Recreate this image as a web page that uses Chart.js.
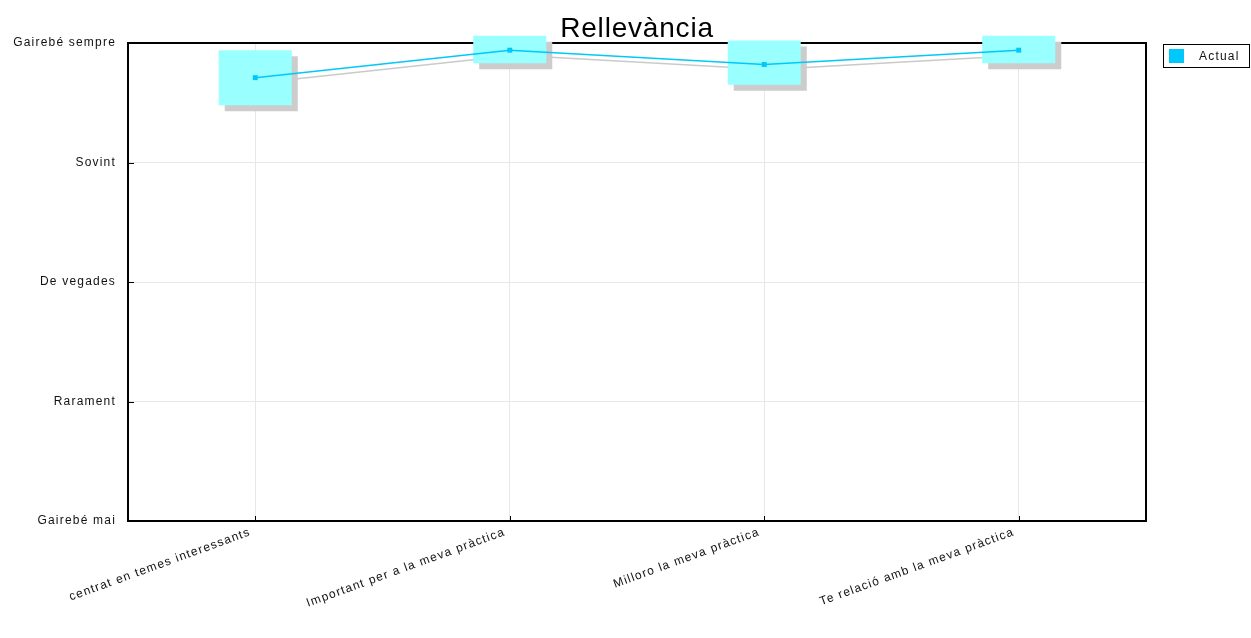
<!DOCTYPE html>
<html>
<head>
<meta charset="utf-8">
<script src="https://cdn.jsdelivr.net/npm/chart.js@4/dist/chart.umd.min.js"></script>
<style>
  html, body { margin: 0; padding: 0; background: #ffffff; }
  #wrap { width: 1251px; height: 638px; }
</style>
</head>
<body>
<div id="wrap"><canvas id="c" width="1251" height="638"></canvas></div>
<script>
// Survey items and answer scale
const categories = [
  'centrat en temes interessants',
  'Important per a la meva pràctica',
  'Milloro la meva pràctica',
  'Te relació amb la meva pràctica'
];
const levelLabels = ['Gairebé mai', 'Rarament', 'De vegades', 'Sovint', 'Gairebé sempre'];

// Mean answer per item (1 = Gairebé mai ... 5 = Gairebé sempre)
const actualValues = [4.71, 4.94, 4.82, 4.94];
// Spread around the mean per item
const spreadLow  = [4.48, 4.83, 4.65, 4.83];
const spreadHigh = [4.94, 5.06, 5.02, 5.06];

const chartTitle = 'Rellevància';
const seriesName = 'Actual';

const FONT = '"Liberation Sans", Arial, Helvetica, sans-serif';
const LINE_COLOR = '#00c8fa';
const BOX_COLOR = '#99ffff';
const SHADOW = '#cccccc';
const GRID = '#e8e8e8';
const LABEL_SPACING = '1.2px';

const decor = {
  id: 'decor',
  beforeDraw(chart) {
    chart.ctx.letterSpacing = LABEL_SPACING;
  },
  beforeDatasetsDraw(chart) {
    const { ctx, chartArea: a, scales: { x, y } } = chart;
    ctx.save();
    ctx.strokeStyle = '#000';
    ctx.lineWidth = 1;
    // short tick marks pointing into the plot
    y.ticks.forEach((t, i) => {
      const py = Math.round(y.getPixelForTick(i)) + 0.5;
      ctx.beginPath(); ctx.moveTo(a.left, py); ctx.lineTo(a.left + 6, py); ctx.stroke();
    });
    x.ticks.forEach((t, i) => {
      const px = Math.round(x.getPixelForTick(i)) + 0.5;
      ctx.beginPath(); ctx.moveTo(px, a.bottom); ctx.lineTo(px, a.bottom - 5); ctx.stroke();
    });
    // plot frame
    ctx.lineWidth = 2;
    ctx.strokeRect(a.left, a.top, a.right - a.left, a.bottom - a.top);
    // drop shadow of the mean line
    const pts = chart.getDatasetMeta(1).data;
    ctx.strokeStyle = '#cacaca';
    ctx.lineWidth = 1.5;
    ctx.beginPath();
    pts.forEach((p, i) => {
      if (i === 0) ctx.moveTo(p.x + 5, p.y + 5); else ctx.lineTo(p.x + 5, p.y + 5);
    });
    ctx.stroke();
    ctx.restore();
  },
  beforeDatasetDraw(chart, args) {
    if (args.index === 0) {
      const ctx = chart.ctx;
      ctx.save();
      ctx.shadowColor = SHADOW;
      ctx.shadowOffsetX = 6;
      ctx.shadowOffsetY = 6;
      ctx.shadowBlur = 0;
    }
  },
  afterDatasetDraw(chart, args) {
    if (args.index === 0) chart.ctx.restore();
  },
  afterDraw(chart) {
    const { ctx, chartArea: a } = chart;
    ctx.save();
    // title
    ctx.letterSpacing = '0.8px';
    ctx.fillStyle = '#000';
    ctx.font = '28px ' + FONT;
    ctx.textAlign = 'center';
    ctx.textBaseline = 'alphabetic';
    ctx.fillText(chartTitle, (a.left + a.right) / 2, 37);
    // legend box
    ctx.letterSpacing = LABEL_SPACING;
    ctx.strokeStyle = '#000';
    ctx.lineWidth = 1;
    ctx.strokeRect(1163.5, 44.5, 86, 23);
    ctx.fillStyle = chart.data.datasets[1].borderColor;
    ctx.fillRect(1169, 49, 15, 14);
    ctx.fillStyle = '#111';
    ctx.font = '12px ' + FONT;
    ctx.textAlign = 'left';
    ctx.textBaseline = 'middle';
    ctx.fillText(chart.data.datasets[1].label, 1199, 56.5);
    ctx.restore();
  }
};

new Chart(document.getElementById('c'), {
  type: 'bar',
  data: {
    labels: categories,
    datasets: [
      {
        type: 'bar',
        label: 'Spread',
        data: categories.map((_, i) => [spreadLow[i], spreadHigh[i]]),
        backgroundColor: BOX_COLOR,
        borderWidth: 0,
        barPercentage: 0.287,
        categoryPercentage: 1,
        clip: false,
        order: 2
      },
      {
        type: 'line',
        label: seriesName,
        data: actualValues,
        borderColor: LINE_COLOR,
        backgroundColor: LINE_COLOR,
        borderWidth: 1.5,
        pointStyle: 'rect',
        pointRadius: 3.5,
        pointBorderWidth: 0,
        tension: 0,
        clip: false,
        order: 1
      }
    ]
  },
  options: {
    responsive: false,
    animation: false,
    devicePixelRatio: 1,
    layout: { padding: { left: 0, top: 43, right: 105, bottom: 0 } },
    plugins: {
      legend: { display: false },
      title: { display: false },
      tooltip: { enabled: false }
    },
    scales: {
      x: {
        offset: true,
        grid: { color: GRID, offset: false, drawTicks: false },
        border: { display: false },
        ticks: {
          minRotation: 20,
          maxRotation: 20,
          autoSkip: false,
          padding: 4,
          labelOffset: -5,
          color: '#111',
          font: { family: FONT, size: 12 }
        },
        afterFit(scale) { scale.height = 117; }
      },
      y: {
        min: 1,
        max: 5,
        grid: { color: GRID, drawTicks: false },
        border: { display: false },
        ticks: {
          stepSize: 1,
          padding: 12,
          color: '#111',
          font: { family: FONT, size: 12 },
          callback: v => levelLabels[v - 1]
        },
        afterFit(scale) { scale.width = 128; }
      }
    }
  },
  plugins: [decor]
});
</script>
</body>
</html>
